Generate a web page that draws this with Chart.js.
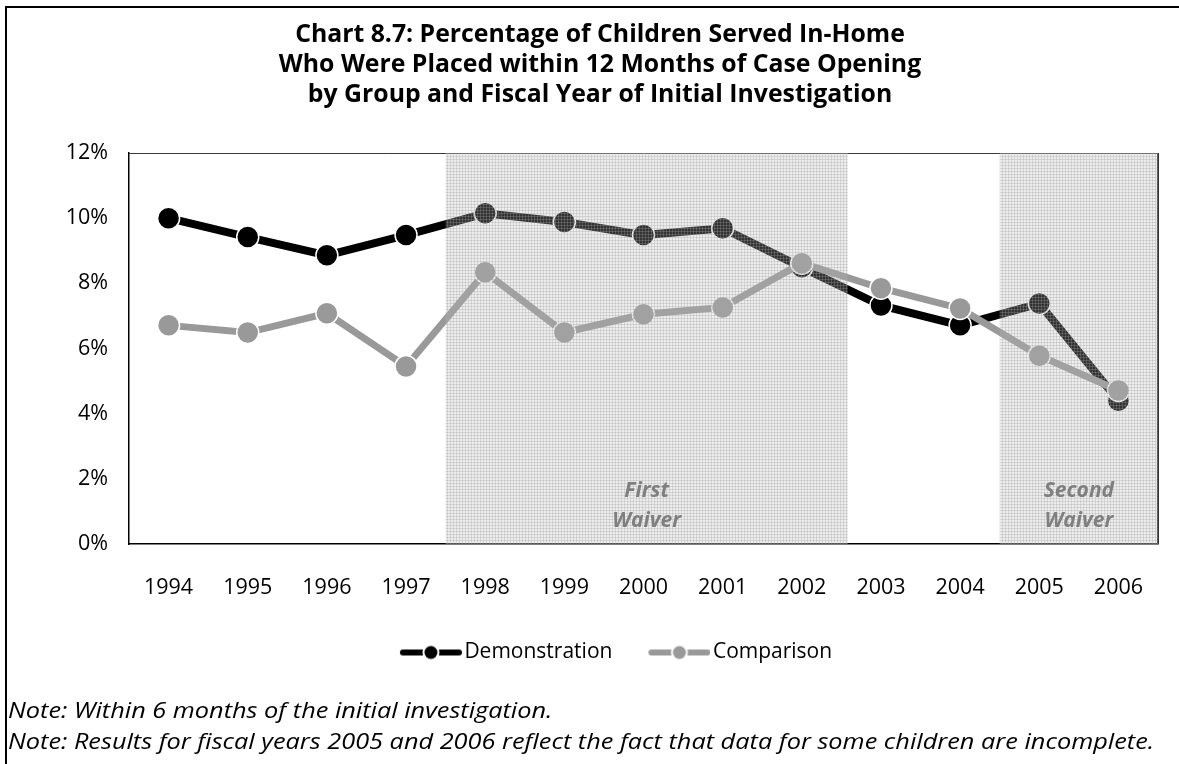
<!DOCTYPE html>
<html>
<head>
<meta charset="utf-8">
<script src="https://cdn.jsdelivr.net/npm/chart.js@4.4.0/dist/chart.umd.min.js"></script>
<style>
  html, body { margin: 0; padding: 0; background: #fff; }
  #wrap { width: 1179px; height: 764px; }
</style>
</head>
<body>
<div id="wrap"><canvas id="myChart"></canvas></div>
<script>
const years = ['1994', '1995', '1996', '1997', '1998', '1999', '2000', '2001', '2002', '2003', '2004', '2005', '2006'];
const demonstration = [10.0, 9.42, 8.86, 9.48, 10.15, 9.88, 9.48, 9.69, 8.49, 7.32, 6.71, 7.38, 4.40];
const comparison = [6.71, 6.49, 7.08, 5.45, 8.34, 6.49, 7.05, 7.26, 8.62, 7.85, 7.23, 5.78, 4.71];
const yTicks = [0, 2, 4, 6, 8, 10, 12];

// shaded waiver periods
const waiverLabels = [['First', 'Waiver'], ['Second', 'Waiver']];
const waiverStart = ['1998', '2005'];
const waiverEnd = ['2002', '2006'];

const titleLines = [
    'Chart 8.7: Percentage of Children Served In-Home',
    'Who Were Placed within 12 Months of Case Opening',
    'by Group and Fiscal Year of Initial Investigation'
];
const notes = [
    'Note: Within 6 months of the initial investigation.',
    'Note: Results for fiscal years 2005 and 2006 reflect the fact that data for some children are incomplete.'
];

const FONT = '"Open Sans", Lato, sans-serif';

// light dotted fill used for the waiver bands
function makeShade() {
    const c = document.createElement('canvas');
    c.width = 3; c.height = 3;
    const g = c.getContext('2d');
    g.fillStyle = 'rgba(190,190,190,0.27)';
    g.fillRect(0, 0, 3, 3);
    g.fillStyle = 'rgba(160,160,160,0.3)';
    g.fillRect(0, 0, 3, 1);
    g.fillRect(0, 0, 1, 3);
    return c;
}

// line + marker legend symbol (drawn in the right 62px of the canvas)
function legendIcon(color) {
    const c = document.createElement('canvas');
    c.width = 102; c.height = 16;
    const g = c.getContext('2d');
    g.strokeStyle = color;
    g.lineWidth = 6;
    g.lineCap = 'round';
    g.beginPath(); g.moveTo(43, 8); g.lineTo(99, 8); g.stroke();
    g.fillStyle = '#fff';
    g.beginPath(); g.arc(71, 8, 8.5, 0, Math.PI * 2); g.fill();
    g.fillStyle = color;
    g.beginPath(); g.arc(71, 8, 6.5, 0, Math.PI * 2); g.fill();
    return c;
}

const pageFrame = {
    id: 'pageFrame',
    beforeDraw(chart) {
        const ctx = chart.ctx;
        ctx.save();
        ctx.fillStyle = '#fff';
        ctx.fillRect(0, 0, chart.width, chart.height);
        ctx.strokeStyle = '#000';
        ctx.lineWidth = 2;
        ctx.strokeRect(6, 7, chart.width + 20, chart.height + 20);
        ctx.restore();
    },
    beforeDatasetsDraw(chart) {
        const {ctx, chartArea: a} = chart;
        ctx.save();
        ctx.strokeStyle = '#3a3a3a';
        ctx.lineWidth = 1;
        ctx.beginPath();
        ctx.moveTo(a.left, a.top + 0.5);
        ctx.lineTo(a.right, a.top + 0.5);
        ctx.stroke();
        ctx.lineWidth = 2;
        ctx.strokeStyle = '#333';
        ctx.beginPath();
        ctx.moveTo(a.right, a.top);
        ctx.lineTo(a.right, a.bottom);
        ctx.stroke();
        ctx.restore();
    },
    afterDraw(chart) {
        // footnotes, slightly widened to match the source lettering
        const ctx = chart.ctx;
        ctx.save();
        ctx.fillStyle = '#000';
        ctx.font = 'italic 22px ' + FONT;
        ctx.textAlign = 'left';
        ctx.textBaseline = 'middle';
        ctx.translate(8, 0);
        ctx.scale(1.15, 1);
        notes.forEach((t, i) => ctx.fillText(t, 0, 712 + i * 31));
        ctx.restore();
    }
};

const waiverShade = {
    id: 'waiverShade',
    afterDatasetsDraw(chart) {
        const {ctx, chartArea: a, scales: {x}} = chart;
        const pat = ctx.createPattern(makeShade(), 'repeat');
        ctx.save();
        waiverStart.forEach((s, i) => {
            const x0 = Math.max(a.left, x.getPixelForValue(years.indexOf(s) - 0.5));
            const x1 = Math.min(a.right, x.getPixelForValue(years.indexOf(waiverEnd[i]) + 0.58));
            ctx.fillStyle = pat;
            ctx.fillRect(x0, a.top, x1 - x0, a.bottom - a.top);
            ctx.fillStyle = '#7f7f7f';
            ctx.font = 'italic bold 21px ' + FONT;
            ctx.textAlign = 'center';
            ctx.textBaseline = 'middle';
            waiverLabels[i].forEach((t, j) => ctx.fillText(t, (x0 + x1) / 2, a.bottom - 53 + j * 30));
        });
        ctx.restore();
    }
};

const data = {
    labels: years,
    datasets: [{
        label: 'Demonstration',
        data: demonstration,
        borderColor: '#000000',
        backgroundColor: '#000000',
        borderWidth: 8,
        pointRadius: 11,
        pointBackgroundColor: '#000000',
        pointBorderColor: '#ffffff',
        pointBorderWidth: 1.5,
        order: 1
    }, {
        label: 'Comparison',
        data: comparison,
        borderColor: '#999999',
        backgroundColor: '#999999',
        borderWidth: 7,
        pointRadius: 11,
        pointBackgroundColor: '#999999',
        pointBorderColor: '#ffffff',
        pointBorderWidth: 1.5,
        order: 0
    }]
};

const config = {
    type: 'line',
    data: data,
    options: {
        responsive: true,
        maintainAspectRatio: false,
        animation: false,
        events: [],
        layout: {
            padding: { top: 10, left: 42, right: 21, bottom: 91 }
        },
        scales: {
            x: {
                offset: true,
                grid: { display: false, drawTicks: false },
                border: { color: '#000', width: 1.5 },
                ticks: {
                    color: '#000',
                    padding: 31,
                    font: { family: FONT, size: 21.5 }
                },
                afterFit: s => { s.height = 94; }
            },
            y: {
                min: 0,
                max: 12,
                grid: { display: false, drawTicks: false },
                border: { color: '#000', width: 1.5 },
                afterBuildTicks: s => { s.ticks = yTicks.map(v => ({ value: v })); },
                ticks: {
                    color: '#000',
                    padding: 21,
                    font: { family: FONT, size: 21.5 },
                    callback: v => v + '%'
                },
                afterFit: s => { s.width = 87; }
            }
        },
        plugins: {
            title: {
                display: true,
                text: titleLines,
                color: '#000',
                font: { family: FONT, size: 24.8, weight: 'bold', lineHeight: '30px' },
                padding: { top: 10, bottom: 43 }
            },
            legend: {
                position: 'bottom',
                labels: {
                    usePointStyle: true,
                    pointStyleWidth: 86,
                    padding: 4,
                    color: '#000',
                    font: { family: FONT, size: 21 },
                    generateLabels(chart) {
                        const items = Chart.defaults.plugins.legend.labels.generateLabels(chart);
                        items.forEach(it => {
                            it.pointStyle = legendIcon(chart.data.datasets[it.datasetIndex].borderColor);
                        });
                        return items.sort((a, b) => a.datasetIndex - b.datasetIndex);
                    }
                }
            },
            tooltip: { enabled: false }
        }
    },
    plugins: [pageFrame, waiverShade]
};

const myChart = new Chart(
    document.getElementById('myChart'),
    config
);
</script>
</body>
</html>
